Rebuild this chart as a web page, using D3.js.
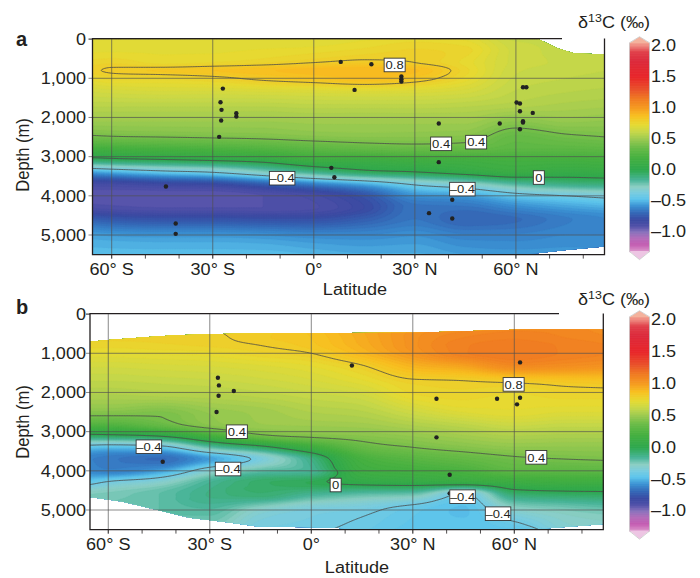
<!DOCTYPE html>
<html><head><meta charset="utf-8">
<script src="https://cdn.jsdelivr.net/npm/d3@7"></script>
<style>body{margin:0;background:#fff;} svg{display:block;font-family:"Liberation Sans",Arial,Helvetica,sans-serif;}</style>
</head><body>
<svg id="chart" width="700" height="578"></svg>
<script>
// ---------------- DATA ----------------
const lats = [-66,-60,-45,-30,-15,0,15,30,45,60,75,87];
const depths = [0,300,600,800,1000,1300,1700,2100,2500,2800,3100,3400,3700,4000,4300,4600,5000,5500];

// Panel a: δ13C (‰), one array per latitude (values down the depth list)
const fieldA = [
 [0.70,0.72,0.76,0.79,0.74,0.66,0.58,0.50,0.38,0.18,-0.08,-0.55,-0.85,-0.92,-0.88,-0.72,-0.55,-0.48],
 [0.70,0.72,0.77,0.81,0.76,0.67,0.58,0.50,0.39,0.19,-0.06,-0.52,-0.85,-0.92,-0.89,-0.74,-0.56,-0.48],
 [0.70,0.72,0.74,0.83,0.76,0.68,0.58,0.50,0.40,0.21,-0.03,-0.45,-0.82,-0.92,-0.90,-0.76,-0.57,-0.48],
 [0.70,0.72,0.75,0.85,0.78,0.68,0.58,0.50,0.41,0.23,0.00,-0.40,-0.80,-0.92,-0.90,-0.76,-0.57,-0.48],
 [0.70,0.73,0.77,0.87,0.82,0.69,0.58,0.50,0.42,0.26,0.04,-0.28,-0.72,-0.90,-0.90,-0.77,-0.58,-0.48],
 [0.70,0.74,0.80,0.89,0.85,0.70,0.59,0.51,0.44,0.30,0.12,-0.15,-0.62,-0.86,-0.88,-0.77,-0.60,-0.50],
 [0.72,0.76,0.82,0.90,0.88,0.71,0.59,0.51,0.45,0.33,0.12,-0.05,-0.52,-0.76,-0.80,-0.72,-0.60,-0.52],
 [0.74,0.78,0.80,0.88,0.84,0.70,0.59,0.51,0.45,0.35,0.15,-0.01,-0.38,-0.58,-0.66,-0.65,-0.58,-0.52],
 [0.72,0.76,0.74,0.76,0.74,0.67,0.58,0.51,0.44,0.34,0.16,0.05,-0.30,-0.55,-0.66,-0.70,-0.62,-0.55],
 [0.62,0.64,0.64,0.63,0.62,0.60,0.56,0.45,0.34,0.30,0.18,0.10,-0.18,-0.45,-0.60,-0.68,-0.62,-0.56],
 [0.62,0.62,0.62,0.61,0.60,0.58,0.54,0.48,0.38,0.30,0.18,0.07,-0.12,-0.40,-0.55,-0.63,-0.60,-0.56],
 [0.62,0.62,0.61,0.60,0.59,0.57,0.53,0.47,0.40,0.31,0.19,0.08,-0.10,-0.36,-0.52,-0.60,-0.60,-0.56]
];
// Panel b
const fieldB = [
 [0.78,0.78,0.78,0.76,0.72,0.66,0.60,0.54,0.44,0.28,-0.04,-0.46,-0.62,-0.60,-0.44,-0.25,-0.22,-0.22],
 [0.78,0.78,0.78,0.76,0.72,0.66,0.60,0.54,0.44,0.28,-0.03,-0.48,-0.64,-0.62,-0.38,-0.24,-0.22,-0.22],
 [0.78,0.78,0.78,0.77,0.73,0.67,0.61,0.55,0.42,0.36,0.02,-0.45,-0.68,-0.55,-0.30,-0.20,-0.20,-0.22],
 [0.80,0.80,0.79,0.78,0.74,0.68,0.62,0.56,0.48,0.46,0.20,-0.20,-0.55,-0.32,-0.15,-0.12,-0.18,-0.25],
 [0.80,0.81,0.82,0.80,0.77,0.70,0.64,0.58,0.51,0.50,0.38,-0.05,-0.36,-0.20,-0.06,-0.08,-0.30,-0.38],
 [0.86,0.86,0.85,0.84,0.80,0.73,0.67,0.61,0.55,0.51,0.43,0.15,-0.12,-0.15,-0.02,-0.15,-0.36,-0.39],
 [0.95,0.95,0.94,0.93,0.90,0.80,0.72,0.64,0.57,0.52,0.45,0.34,0.20,0.14,0.04,-0.20,-0.38,-0.42],
 [1.00,1.02,1.04,1.04,1.02,0.92,0.79,0.74,0.64,0.56,0.48,0.40,0.28,0.18,0.06,-0.22,-0.44,-0.46],
 [1.00,1.05,1.10,1.12,1.12,0.98,0.80,0.76,0.70,0.60,0.52,0.44,0.33,0.22,0.08,-0.42,-0.48,-0.46],
 [1.02,1.08,1.12,1.14,1.15,1.08,0.82,0.74,0.72,0.64,0.55,0.47,0.38,0.30,0.12,-0.08,-0.30,-0.46],
 [1.02,1.08,1.10,1.12,1.12,1.06,0.84,0.76,0.70,0.62,0.54,0.47,0.40,0.30,0.14,-0.05,-0.25,-0.32],
 [1.00,1.05,1.08,1.10,1.10,1.04,0.85,0.76,0.70,0.62,0.54,0.47,0.41,0.30,0.14,-0.04,-0.22,-0.30]
];

// data coverage (outside is blank)
const topA_lat = [-70, 66.5, 69.3, 72.3, 77.2, 90];
const topA_dep = [0, 0, 105, 232, 360, 410];
const botA_lat = [-70, 63, 75, 90];
const botA_dep = [5500, 5500, 5380, 5270];
const topB_lat = [-70, -66, -60, -47, -40, -30, -12, 10, 30, 50, 60, 70, 90];
const topB_dep = [730, 710, 660, 580, 540, 515, 480, 480, 475, 425, 400, 390, 390];
const botB_lat = [-70, -66, -56, -46, -36, -26, -16, 0, 8, 12, 65, 80, 90];
const botB_dep = [4620, 4660, 4780, 4990, 5200, 5300, 5420, 5440, 5460, 5500, 5500, 5400, 5330];

// sample sites
const dotsA_lat = [8, 17.1, 26, 26, 26, 12.1, -27, -27.7, -27.4, -23, -23, -27.5, -28.1, -43.9, -41, -41, 5.2, 6.1, 37.1, 37.1, 41.1, 34.2, 41.1, 55.2, 60.2, 61.2, 62.1, 63.1, 61.2, 65, 62.1, 62.1, 61.2];
const dotsA_dep = [582, 641, 956, 1023, 1084, 1296, 1263, 1610, 1806, 1890, 1977, 2079, 2495, 3763, 4707, 4970, 3286, 3524, 2155, 3141, 4102, 4442, 4579, 2155, 1620, 1645, 1227, 1227, 1840, 1883, 2095, 2130, 2300];
const dotsB_lat = [-27.6, -27.3, -27.4, -22.9, -28, -43.9, 12, 61.7, 37, 54.9, 61.7, 60.8, 37, 40.9, 40.9];
const dotsB_dep = [1624, 1820, 2083, 1964, 2500, 3767, 1310, 1233, 2160, 2160, 2135, 2304, 3146, 4099, 4575];

// contour labels
const contourLevels = [-0.4, 0, 0.4, 0.8];
const labelsA_text = ["0.8", "0.4", "0.4", "0", "\u20130.4", "\u20130.4"];
const labelsA_lat = [24, 37.8, 48.2, 66.8, 44.1, -9.4];
const labelsA_dep = [660, 2673, 2630, 3533, 3829, 3550];
const labelsB_text = ["\u20130.4", "0.4", "\u20130.4", "0", "0.8", "0.4", "\u20130.4", "\u20130.4"];
const labelsB_lat = [-48, -22, -24.6, 7.2, 59.8, 66.5, 44.7, 55.2];
const labelsB_dep = [3385, 3002, 3954, 4362, 1794, 3656, 4660, 5094];

// axes
const latTicks = [-60, -30, 0, 30, 60];
const latMinorTicks = [-60,-50,-40,-30,-20,-10,0,10,20,30,40,50,60,70,80];
const depthTicks = [0, 1000, 2000, 3000, 4000, 5000];
const cbTicks = [2.0, 1.5, 1.0, 0.5, 0.0, -0.5, -1.0];

// colour map
const cbVals = [-1.45,-1.3,-1.2,-1.1,-1.0,-0.9,-0.8,-0.7,-0.58,-0.47,-0.37,-0.27,-0.16,0.0,0.2,0.37,0.5,0.62,0.73,0.87,1.0,1.15,1.3,1.5,1.75,1.9,2.0,2.15];
const cbColors = ["#f2d2ea","#d990c8","#c45cb2","#b46cba","#8a72bc","#5050a8","#3a4aa2","#3464b4","#3a90d2","#5cc4ec","#78cce0","#8ccfc4","#48b498","#2ea84e","#46b040","#6cbc48","#9cca50","#c8d848","#e6da32","#f8c020","#f59a20","#f07a22","#e9502a","#e8262a","#dc2a3c","#e0404a","#ef8a80","#f5bca4"];

// ---------------- DRAWING ----------------
const SX = 1.13;
const INK = "#231f20";
const svg = d3.select("#chart");
const color = d3.scaleLinear().domain(cbVals).range(cbColors).interpolate(d3.interpolateRgb).clamp(true);

function addText(g, x, y, s, size, anchor, weight) {
  return g.append("text").attr("transform", `translate(${x},${y}) scale(${SX},1)`)
    .attr("text-anchor", anchor || "start").attr("font-size", size)
    .attr("font-weight", weight || "normal").attr("fill", INK).text(s);
}

function monoSlopes(xs, ys) {
  const n = xs.length, m = new Array(n), s = [];
  for (let i = 0; i < n - 1; i++) s.push((ys[i+1] - ys[i]) / (xs[i+1] - xs[i]));
  m[0] = s[0]; m[n-1] = s[n-2];
  for (let i = 1; i < n - 1; i++) {
    const h0 = xs[i] - xs[i-1], h1 = xs[i+1] - xs[i], s0 = s[i-1], s1 = s[i];
    const p = (s0 * h1 + s1 * h0) / (h0 + h1);
    m[i] = (Math.sign(s0) + Math.sign(s1)) * Math.min(Math.abs(s0), Math.abs(s1), 0.5 * Math.abs(p)) || 0;
  }
  return m;
}
function hermite(xs, ys, m, x) {
  let i = d3.bisectRight(xs, x) - 1;
  i = Math.max(0, Math.min(xs.length - 2, i));
  const h = xs[i+1] - xs[i], t = Math.max(0, Math.min(1, (x - xs[i]) / h));
  const t2 = t * t, t3 = t2 * t;
  return (2*t3 - 3*t2 + 1) * ys[i] + (t3 - 2*t2 + t) * h * m[i] + (-2*t3 + 3*t2) * ys[i+1] + (t3 - t2) * h * m[i+1];
}
const dLat = 0.5, dDep = 25, gLat0 = -66, gLat1 = 87;
const nx = Math.round((gLat1 - gLat0) / dLat) + 1;
const ny = Math.round(5500 / dDep) + 1;
function buildGrid(field) {
  const cols = field.map(col => { const m = monoSlopes(depths, col); return d3.range(ny).map(j => hermite(depths, col, m, j * dDep)); });
  const values = new Array(nx * ny);
  for (let j = 0; j < ny; j++) {
    const ys = cols.map(c => c[j]); const m = monoSlopes(lats, ys);
    for (let i = 0; i < nx; i++) values[j * nx + i] = hermite(lats, ys, m, gLat0 + i * dLat);
  }
  return values;
}

function drawPanel(cfg) {
  const x = d3.scaleLinear().domain(cfg.latDomain).range([cfg.left, cfg.right]);
  const y = d3.scaleLinear().domain([0, 5500]).range([cfg.top, cfg.bottom]);
  const g = svg.append("g");
  const id = cfg.id;
  const defs = svg.append("defs");
  defs.append("clipPath").attr("id", "rect" + id).append("rect")
    .attr("x", cfg.left).attr("y", cfg.top).attr("width", cfg.right - cfg.left).attr("height", cfg.bottom - cfg.top);
  const topPts = cfg.topLat.map((l, i) => [x(l), y(cfg.topDep[i])]);
  const botPts = cfg.botLat.map((l, i) => [x(l), y(cfg.botDep[i])]).reverse();
  defs.append("clipPath").attr("id", "cov" + id).append("path")
    .attr("d", d3.line()(topPts.concat(botPts)) + "Z");

  const values = buildGrid(cfg.field);
  const tr = d3.geoTransform({ point(u, v) { this.stream.point(x(gLat0 + (u - 0.5) * dLat), y((v - 0.5) * dDep)); } });
  const path = d3.geoPath(tr);
  const step = 0.025;
  const thr = d3.range(-46, 54).map(k => +(k * step).toFixed(3));

  const field = g.append("g").attr("clip-path", `url(#rect${id})`).append("g").attr("clip-path", `url(#cov${id})`);
  field.selectAll("path.band").data(d3.contours().size([nx, ny]).thresholds(thr)(values)).join("path")
    .attr("class", "band").attr("d", path).attr("fill", d => color(d.value + step / 2))
    .attr("stroke", d => color(d.value + step / 2)).attr("stroke-width", 0.3);
  field.selectAll("path.cline").data(d3.contours().size([nx, ny]).thresholds(contourLevels)(values)).join("path")
    .attr("class", "cline").attr("d", path).attr("fill", "none").attr("stroke", "#4a4a4a").attr("stroke-width", 0.8);

  // grid lines
  const grid = g.append("g").attr("stroke", "#505050").attr("stroke-width", 0.8).attr("stroke-opacity", 0.85);
  grid.selectAll("line.v").data(latTicks).join("line").attr("x1", d => x(d)).attr("x2", d => x(d))
    .attr("y1", cfg.top).attr("y2", cfg.bottom + 4);
  grid.selectAll("line.h").data(depthTicks.slice(1)).join("line").attr("y1", d => y(d)).attr("y2", d => y(d))
    .attr("x1", cfg.left - 4).attr("x2", cfg.right);
  g.append("g").attr("stroke", INK).attr("stroke-width", 0.8).selectAll("line").data(latMinorTicks).join("line")
    .attr("x1", d => x(d)).attr("x2", d => x(d)).attr("y1", cfg.bottom).attr("y2", cfg.bottom + 4);
  g.append("line").attr("x1", cfg.left - 4).attr("x2", cfg.left).attr("y1", y(0)).attr("y2", y(0)).attr("stroke", INK);

  // frame
  g.append("path").attr("fill", "none").attr("stroke", INK).attr("stroke-width", 1.3)
    .attr("d", `M${cfg.frameTopEnd},${cfg.top - 0.5}H${cfg.left}V${cfg.bottom}H${cfg.right}V${cfg.top - 0.5}`);

  // dots
  g.selectAll("circle").data(cfg.dotLat.map((l, i) => [l, cfg.dotDep[i]])).join("circle")
    .attr("cx", d => x(d[0])).attr("cy", d => y(d[1])).attr("r", 2.2).attr("fill", "#222");

  // contour labels
  cfg.labText.forEach((t, i) => {
    const cx = x(cfg.labLat[i]), cy = y(cfg.labDep[i]);
    const lg = g.append("g");
    const w = (t.length === 1 ? 7 : t.length === 3 ? 17 : 21.5) + 4;
    lg.append("rect").attr("x", cx - w / 2).attr("y", cy - 6.8).attr("width", w).attr("height", 13.6)
      .attr("fill", "#fff").attr("stroke", "#333").attr("stroke-width", 0.9);
    addText(lg, cx, cy + 4.2, t, 11.5, "middle");
  });

  // axis labels
  latTicks.forEach(v => addText(g, x(v), cfg.bottom + 20, v < 0 ? `${-v}\u00b0 S` : v > 0 ? `${v}\u00b0 N` : "0\u00b0", 16, "middle"));
  depthTicks.forEach(v => addText(g, 86, y(v) + 5.7, d3.format(",")(v), 16, "end"));
  addText(g, cfg.latLabelX, cfg.latLabelY, "Latitude", 16, "middle");
  g.append("text").attr("transform", `translate(29,${cfg.depthLabelY}) rotate(-90) scale(1,${SX})`)
    .attr("text-anchor", "middle").attr("font-size", 16.5).attr("fill", INK).text("Depth (m)");
  g.append("text").attr("x", 16).attr("y", cfg.letterY).attr("font-size", 20).attr("font-weight", "bold")
    .attr("fill", INK).text(cfg.letter);

  // colour bar
  const cy = d3.scaleLinear().domain([-1, 2]).range(cfg.cbRange);
  const cb = g.append("g");
  const x0 = 629.5, x1 = 649.5, vLo = -1.32, vHi = 2.04;
  cb.selectAll("rect").data(d3.range(Math.round(vLo * 100), Math.round(vHi * 100))).join("rect")
    .attr("x", x0).attr("width", x1 - x0).attr("y", d => cy((d + 1) / 100)).attr("height", d => cy(d / 100) - cy((d + 1) / 100) + 0.6)
    .attr("fill", d => color(d / 100 + 0.005));
  const tipTop = cy(vHi) - 6, tipBot = cy(vLo) + 8;
  cb.append("path").attr("d", `M${x0},${cy(vHi) + 0.5}L${(x0 + x1) / 2},${tipTop}L${x1},${cy(vHi) + 0.5}Z`).attr("fill", color(2.12));
  cb.append("path").attr("d", `M${x0},${cy(vLo) - 0.5}L${(x0 + x1) / 2},${tipBot}L${x1},${cy(vLo) - 0.5}Z`).attr("fill", color(-1.42));
  cb.append("path").attr("fill", "none").attr("stroke", "#c9c9c9").attr("stroke-width", 0.8)
    .attr("d", `M${x0},${cy(vHi)}L${(x0 + x1) / 2},${tipTop}L${x1},${cy(vHi)}V${cy(vLo)}L${(x0 + x1) / 2},${tipBot}L${x0},${cy(vLo)}Z`);
  cbTicks.forEach(v => addText(g, 651, cy(v) + 5.7, v < 0 ? "\u2013" + Math.abs(v).toFixed(1) : v.toFixed(1), 16, "start"));
  const tt = g.append("text").attr("transform", `translate(578,${cfg.titleY}) scale(${SX},1)`).attr("font-size", 16).attr("fill", INK);
  tt.append("tspan").text("\u03b4");
  tt.append("tspan").attr("font-size", 11).attr("dy", -6.5).text("13");
  tt.append("tspan").attr("dy", 6.5).text("C (\u2030)");
}

drawPanel({
  id: "a", letter: "a", letterY: 46, field: fieldA,
  latDomain: [-65.7, 86.3], left: 92.5, right: 604.5, top: 39.1, bottom: 254.6, frameTopEnd: 562,
  topLat: topA_lat, topDep: topA_dep, botLat: botA_lat, botDep: botA_dep,
  dotLat: dotsA_lat, dotDep: dotsA_dep,
  labText: labelsA_text, labLat: labelsA_lat, labDep: labelsA_dep,
  latLabelX: 355, latLabelY: 295, depthLabelY: 155,
  cbRange: [231.7, 45.2], titleY: 28
});
drawPanel({
  id: "b", letter: "b", letterY: 314, field: fieldB,
  latDomain: [-65.4, 86.3], left: 90, right: 603.3, top: 314.1, bottom: 529.6, frameTopEnd: 559,
  topLat: topB_lat, topDep: topB_dep, botLat: botB_lat, botDep: botB_dep,
  dotLat: dotsB_lat, dotDep: dotsB_dep,
  labText: labelsB_text, labLat: labelsB_lat, labDep: labelsB_dep,
  latLabelX: 357, latLabelY: 573, depthLabelY: 422,
  cbRange: [510.7, 319.3], titleY: 305
});
</script>
</body></html>
